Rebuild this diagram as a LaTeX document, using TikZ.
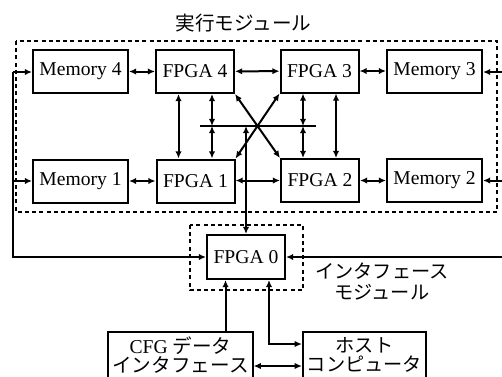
\documentclass[tikz,border=0pt]{standalone}
\usepackage{fontspec}
\setmainfont{Liberation Serif}
\newfontfamily\jpfont{Noto Sans CJK JP}
\usetikzlibrary{arrows.meta}

\tikzset{
    block/.style={draw, line width=1pt, minimum height=21.5pt, inner sep=1pt},
    memblock/.style={block, minimum width=47.5pt},
    fpgablock/.style={block, minimum width=39pt},
    ioblock/.style={draw, line width=1pt, align=center, minimum height=23pt, inner sep=2pt},
    modbox/.style={line width=0.8pt, dash pattern=on 2pt off 1.6pt},
    link/.style={line width=1pt},
}

\begin{document}
\begin{tikzpicture}[x=0.5pt, y=-0.5pt, >={Latex[length=3.6pt,width=3.2pt]},
        font=\fontsize{9.8pt}{9.6pt}\selectfont]
    \clip (0,0) rectangle (502,376);

    % module frames
    \node[font=\fontsize{9.8pt}{9.6pt}\jpfont] (execlabel) at (243.5,23) {実行モジュール};
    \draw[modbox] (16,41) rectangle (497,212);
    \draw[modbox] (190,225) rectangle (303,290);
    \node[align=center, font=\fontsize{9.6pt}{10.5pt}\jpfont] (iflabel) at (382,282) {インタフェース\\モジュール};

    % execution module
    \node[memblock]  (mem4)  at (80.5,71.5) {Memory 4};
    \node[fpgablock] (fpga4) at (195,71.5)  {FPGA 4};
    \node[fpgablock] (fpga3) at (319.5,71)  {FPGA 3};
    \node[memblock]  (mem3)  at (434.5,71)  {Memory 3};
    \node[memblock]  (mem1)  at (80.5,181)  {Memory 1};
    \node[fpgablock] (fpga1) at (195.5,181) {FPGA 1};
    \node[fpgablock] (fpga2) at (320,180.5) {FPGA 2};
    \node[memblock]  (mem2)  at (434.5,180.5) {Memory 2};

    % interface module and host side
    \node[fpgablock, minimum height=22pt] (fpga0) at (246,257) {FPGA 0};
    \node[ioblock, minimum width=67.5pt] (cfg)  at (180.5,355) {CFG {\jpfont データ}\\{\jpfont インタフェース}};
    \node[ioblock, minimum width=61pt, font=\fontsize{9.6pt}{9.6pt}\jpfont] (host) at (364.5,355) {ホスト\\コンピュータ};

    % bus
    \coordinate (busL) at (200,126);
    \coordinate (busR) at (316,126);
    \draw[link] (busL) -- (busR);

    % horizontal links
    \draw[link, <->] (mem4) -- (fpga4);
    \draw[link, <->] (fpga4) -- (fpga3);
    \draw[link, <->] (fpga3) -- (mem3);
    \draw[link, <->] (mem1) -- (fpga1);
    \draw[link, <->] (fpga1.east |- fpga2.west) -- (fpga2.west);
    \draw[link, <->] (fpga2) -- (mem2);

    % vertical links
    \draw[link, <->] ([xshift=-8.25pt]fpga4.south) -- ([xshift=-8.25pt]fpga1.north -| fpga4.south);
    \draw[link, <->] ([xshift=8.5pt]fpga4.south) -- ([xshift=8.5pt]fpga4.south |- busL);
    \draw[link, <->] ([xshift=8.5pt]fpga4.south |- busL) -- ([xshift=8.5pt]fpga4.south |- fpga1.north);
    \draw[link, <->] ([xshift=-8.25pt]fpga3.south) -- ([xshift=-8.25pt]fpga3.south |- busR);
    \draw[link, <->] ([xshift=-8.25pt]fpga3.south |- busR) -- ([xshift=-8.25pt]fpga3.south |- fpga2.north);
    \draw[link, <->] ([xshift=8.25pt]fpga3.south) -- ([xshift=8.25pt]fpga3.south |- fpga2.north);
    \draw[link, <->] (fpga4.south east) -- (fpga2.north west);
    \draw[link, <->] (fpga3.south west) -- (fpga1.north east);
    \draw[link, <->] (fpga0.north |- busL) -- (fpga0.north);

    % feedback lines to FPGA 0
    \coordinate (fbleft) at (13,72);
    \coordinate (fbright) at (506,72);
    \draw[link, ->] (fbleft) -- (mem4.west |- fbleft);
    \draw[link, ->] (fbleft |- mem1.west) -- (mem1.west);
    \draw[link, ->] (fbleft) |- (fpga0.west);
    \draw[link, ->] (fbright) -- (mem3.east |- fbright);
    \draw[link, ->] (fbright |- mem2.east) -- (mem2.east);
    \draw[link, ->] (fbright) |- (fpga0.east);

    % host side links
    \draw[link, ->] ([xshift=22.5pt]cfg.north) -- ([xshift=22.5pt]cfg.north |- fpga0.south);
    \draw[link, <->] ([xshift=11.5pt]fpga0.south) |- ([yshift=5.5pt]host.west);
    \draw[link, <->] ([yshift=-5.5pt]cfg.east) -- ([yshift=-5.5pt]host.west);
\end{tikzpicture}
\end{document}
